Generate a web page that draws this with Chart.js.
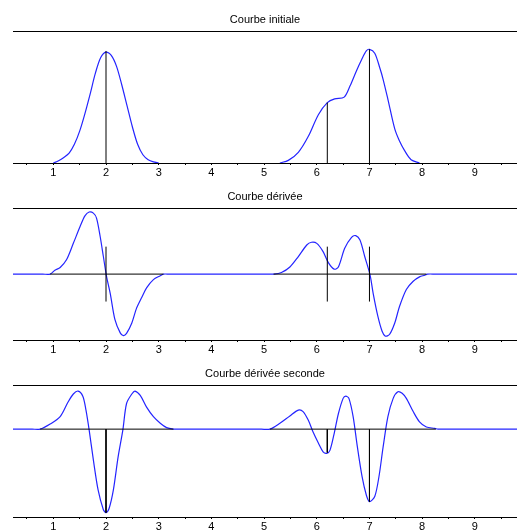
<!DOCTYPE html>
<html>
<head>
<meta charset="utf-8">
<script src="https://cdn.jsdelivr.net/npm/chart.js@4.4.1/dist/chart.umd.min.js"></script>
<style>
  html, body { margin: 0; padding: 0; background: #fff; overflow: hidden; }
  body { width: 517px; height: 531px; position: relative; }
  .panel { position: absolute; left: 0; width: 517px; height: 180px; }
</style>
</head>
<body>
<div class="panel" style="top:0px"><canvas id="c1"></canvas></div>
<div class="panel" style="top:177px"><canvas id="c2"></canvas></div>
<div class="panel" style="top:354px"><canvas id="c3"></canvas></div>
<script>
// Axis range and ticks
const xMin = 0.235;
const xMax = 9.8;
const tickValues = [0.5, 1, 1.5, 2, 2.5, 3, 3.5, 4, 4.5, 5, 5.5, 6, 6.5, 7, 7.5, 8, 8.5, 9, 9.5];

// Titles
const titles = ['Courbe initiale', 'Courbe dérivée', 'Courbe dérivée seconde'];

// Courbe initiale (two bumps)
const xInitA = [1.0, 1.1, 1.2, 1.3, 1.4, 1.5, 1.6, 1.7, 1.8, 1.9, 2.0, 2.1, 2.2, 2.3, 2.4, 2.5, 2.6, 2.7, 2.8, 2.9, 3.0];
const yInitA = [0.0, 0.02, 0.05, 0.09, 0.17, 0.29, 0.45, 0.63, 0.82, 0.96, 1.01, 0.98, 0.88, 0.71, 0.52, 0.33, 0.17, 0.075, 0.03, 0.01, 0.0];
const xInitB = [5.3, 5.46, 5.65, 5.84, 6.03, 6.2, 6.34, 6.52, 6.63, 6.75, 6.85, 6.94, 7.0, 7.1, 7.2, 7.26, 7.35, 7.48, 7.57, 7.67, 7.79, 7.95];
const yInitB = [0.0, 0.024, 0.097, 0.243, 0.44, 0.55, 0.584, 0.6, 0.70, 0.836, 0.94, 1.02, 1.035, 1.0, 0.86, 0.76, 0.58, 0.31, 0.2, 0.11, 0.03, 0.0];
const markX1 = [2, 6.2, 7];
const markLow1 = [0, 0, 0];
const markHigh1 = [1.02, 0.55, 1.035];

// Courbe dérivée
const xDer = [0.22, 0.8, 0.94, 1.03, 1.13, 1.25, 1.38, 1.51, 1.6, 1.68, 1.76, 1.82, 1.89, 1.95, 2.01, 2.08, 2.17, 2.27, 2.33, 2.39, 2.49,
  2.58, 2.68, 2.77, 2.9, 3.03, 3.09, 3.2, 5.05, 5.18, 5.33, 5.49, 5.65, 5.81, 5.9, 6.0, 6.12, 6.22, 6.33, 6.41, 6.53, 6.66, 6.74,
  6.82, 6.91, 7.01, 7.07, 7.16, 7.24, 7.3, 7.38, 7.48, 7.57, 7.7, 7.83, 7.95, 8.05, 8.1, 8.25, 9.8];
const yDer = [0, 0, 0, 0.07, 0.12, 0.26, 0.56, 0.87, 1.06, 1.13, 1.11, 1.02, 0.68, 0.32, -0.04, -0.35, -0.83, -1.07, -1.12, -1.08, -0.89,
  -0.62, -0.42, -0.25, -0.10, -0.03, 0, 0, 0, 0, 0.03, 0.13, 0.32, 0.53, 0.58, 0.56, 0.41, 0.21, 0.09, 0.13, 0.47, 0.67, 0.70,
  0.62, 0.32, -0.01, -0.35, -0.77, -1.04, -1.13, -1.10, -0.89, -0.59, -0.28, -0.13, -0.05, -0.02, 0, 0, 0];
const zeroSeg2 = [[0.94, 3.09], [5.18, 8.08]];
const markX2 = [2, 6.2, 7];
const markLow2 = [-0.5, -0.5, -0.5];
const markHigh2 = [0.5, 0.5, 0.5];

// Courbe dérivée seconde
const xSec = [0.22, 0.6, 0.75, 0.94, 1.13, 1.28, 1.38, 1.47, 1.56, 1.62, 1.68, 1.76, 1.85, 1.95, 2.0, 2.06, 2.14, 2.23, 2.32, 2.39, 2.49,
  2.55, 2.65, 2.77, 2.9, 3.03, 3.15, 3.28, 3.4, 4.95, 5.11, 5.3, 5.49, 5.65, 5.74, 5.84, 5.93, 6.03, 6.12, 6.19, 6.25, 6.33, 6.41,
  6.5, 6.55, 6.61, 6.69, 6.77, 6.86, 6.94, 7.0, 7.1, 7.18, 7.26, 7.35, 7.45, 7.54, 7.62, 7.7, 7.83, 7.95, 8.08, 8.24, 8.3, 8.45, 9.8];
const ySec = [0, 0, 0, 0.07, 0.17, 0.37, 0.48, 0.52, 0.45, 0.26, -0.01, -0.42, -0.83, -1.10, -1.14, -1.08, -0.83, -0.38, -0.01, 0.35, 0.48,
  0.52, 0.46, 0.30, 0.17, 0.08, 0.02, 0, 0, 0, 0, 0.08, 0.18, 0.26, 0.24, 0.12, -0.04, -0.19, -0.31, -0.33, -0.29, -0.06, 0.21,
  0.42, 0.45, 0.42, 0.17, -0.24, -0.65, -0.90, -0.99, -0.92, -0.65, -0.24, 0.17, 0.42, 0.51, 0.49, 0.42, 0.24, 0.10, 0.03, 0.01, 0, 0, 0];
const zeroSeg3 = [[0.75, 3.28], [5.11, 8.26]];
const markX3 = [2, 6.2, 7];
const markLow3 = [0, 0, 0];
const markHigh3 = [-1.14, -0.32, -0.99];

const blue = '#2424ff';
const black = '#000000';

function toPoints(xs, ys) {
    return xs.map((x, i) => ({ x: x, y: ys[i] }));
}

function blackLine(points) {
    return {
        data: points,
        borderColor: black,
        borderWidth: 1,
        pointRadius: 0,
        tension: 0
    };
}

function blueCurve(xs, ys) {
    return {
        data: toPoints(xs, ys),
        borderColor: blue,
        borderWidth: 1.2,
        pointRadius: 0,
        tension: 0.3
    };
}

function createPanel(canvasId, title, curves, markX, markLow, markHigh, zeroSegs, yMin, yMax) {
    const ctx = document.getElementById(canvasId);
    const datasets = [];

    // black markers first so they sit on top
    markX.forEach((x, i) => {
        datasets.push(blackLine([{ x: x, y: markLow[i] }, { x: x, y: markHigh[i] }]));
    });
    zeroSegs.forEach(seg => {
        datasets.push(blackLine([{ x: seg[0], y: 0 }, { x: seg[1], y: 0 }]));
    });
    curves.forEach(c => datasets.push(blueCurve(c[0], c[1])));

    return new Chart(ctx, {
        type: 'line',
        data: { datasets: datasets },
        options: {
            responsive: true,
            maintainAspectRatio: false,
            animation: false,
            devicePixelRatio: 1,
            layout: { padding: { left: 13, right: 0, top: 0, bottom: 0 } },
            plugins: {
                legend: { display: false },
                tooltip: { enabled: false },
                title: {
                    display: true,
                    text: title,
                    color: '#000',
                    font: { family: 'Liberation Sans, Arial, sans-serif', size: 11, weight: 'normal' },
                    padding: { top: 13, bottom: 5 }
                }
            },
            scales: {
                x: {
                    type: 'linear',
                    position: 'bottom',
                    min: xMin,
                    max: xMax,
                    afterBuildTicks: (scale) => {
                        scale.ticks = tickValues.map(v => ({ value: v }));
                    },
                    afterFit: (scale) => { scale.height = 17; },
                    grid: {
                        display: true,
                        drawOnChartArea: false,
                        drawTicks: true,
                        tickLength: 2,
                        color: black
                    },
                    border: { display: true, color: black, width: 1 },
                    ticks: {
                        autoSkip: false,
                        maxRotation: 0,
                        padding: 1,
                        color: '#000',
                        font: { family: 'Liberation Sans, Arial, sans-serif', size: 11 },
                        callback: (value) => (value % 1 === 0 ? String(value) : '')
                    }
                },
                x2: {
                    type: 'linear',
                    position: 'top',
                    min: xMin,
                    max: xMax,
                    afterFit: (scale) => { scale.height = 0; },
                    grid: { display: false },
                    ticks: { display: false },
                    border: { display: true, color: black, width: 1 }
                },
                y: {
                    display: false,
                    min: yMin,
                    max: yMax
                }
            }
        }
    });
}

createPanel('c1', titles[0], [[xInitA, yInitA], [xInitB, yInitB]], markX1, markLow1, markHigh1, [], 0, 1.2);
createPanel('c2', titles[1], [[xDer, yDer]], markX2, markLow2, markHigh2, zeroSeg2, -1.2, 1.2);
createPanel('c3', titles[2], [[xSec, ySec]], markX3, markLow3, markHigh3, zeroSeg3, -1.2, 0.6);
</script>
</body>
</html>
